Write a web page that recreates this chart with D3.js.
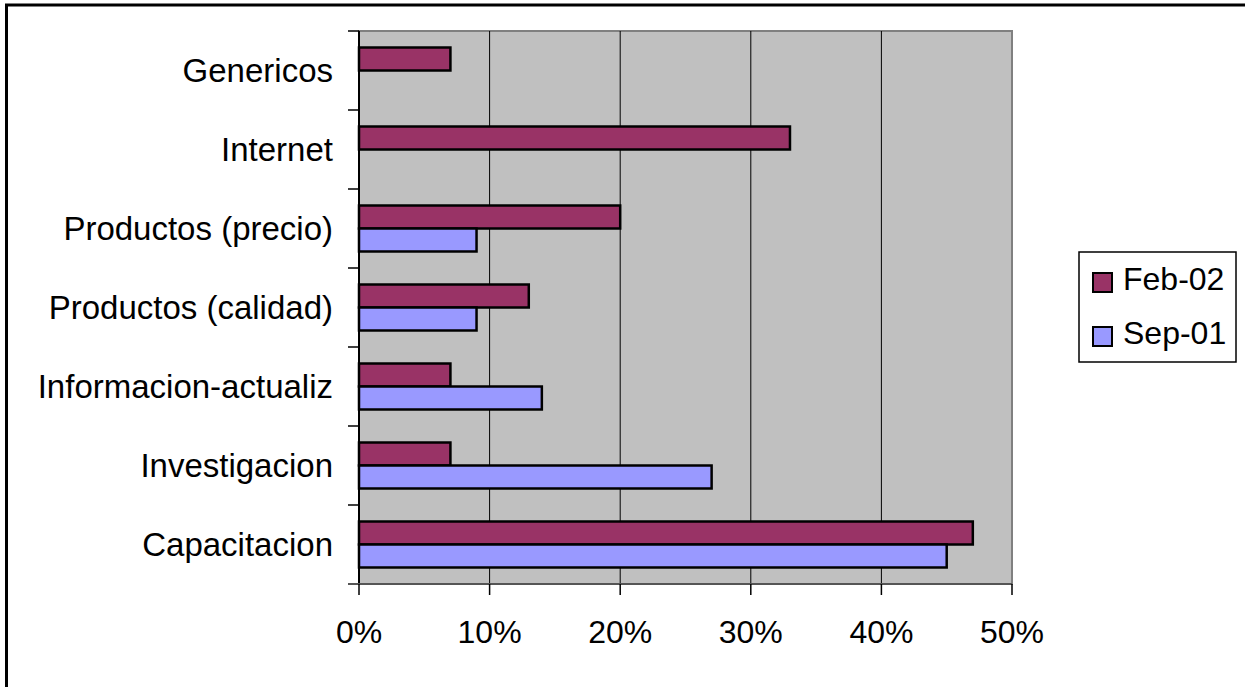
<!DOCTYPE html>
<html>
<head>
<meta charset="utf-8">
<script src="https://d3js.org/d3.v7.min.js"></script>
<style>
  body { margin: 0; background: #fff; font-family: Arial, "Liberation Sans", sans-serif; }
  svg { display: block; }
  .tick-label, .legend text { font-size: 32px; fill: #000; }
  .cat-label { font-size: 33px; fill: #000; }
</style>
</head>
<body>
<script>
  // chart values
  var categories = ["Genericos", "Internet", "Productos (precio)", "Productos (calidad)",
                    "Informacion-actualiz", "Investigacion", "Capacitacion"];
  var seriesNames = ["Feb-02", "Sep-01"];
  var feb02 = [7, 33, 20, 13, 7, 7, 47];
  var sep01 = [null, null, 9, 9, 14, 27, 45];
  var xTicks = [0, 10, 20, 30, 40, 50];
  var colors = {"Feb-02": "#993366", "Sep-01": "#9999FF"};

  var W = 1245, H = 687;
  var plot = {left: 359, top: 31, width: 653, height: 553};

  var svg = d3.select("body").append("svg")
      .attr("width", W)
      .attr("height", H);

  // outer chart frame (only top/left visible in the picture)
  svg.append("rect")
      .attr("x", 6.5).attr("y", 5)
      .attr("width", W + 20).attr("height", H + 20)
      .attr("fill", "#fff")
      .attr("stroke", "#000")
      .attr("stroke-width", 3);

  var x = d3.scaleLinear().domain([0, 50]).range([0, plot.width]);
  var y0 = d3.scaleBand().domain(categories).range([0, plot.height]).padding(0);
  var pad = y0.bandwidth() * 0.209;
  var y1 = d3.scaleBand().domain(seriesNames).range([pad, y0.bandwidth() - pad]);

  var g = svg.append("g")
      .attr("transform", `translate(${plot.left},${plot.top})`);

  g.append("rect")
      .attr("width", plot.width).attr("height", plot.height)
      .attr("fill", "#C0C0C0")
      .attr("stroke", "#808080")
      .attr("stroke-width", 2);

  // gridlines
  g.selectAll(".grid")
      .data(xTicks.slice(1, -1))
    .enter().append("line")
      .attr("class", "grid")
      .attr("x1", d => x(d)).attr("x2", d => x(d))
      .attr("y1", 0).attr("y2", plot.height)
      .attr("stroke", "#000").attr("stroke-width", 1);

  var rows = categories.map((c, i) => ({cat: c, "Feb-02": feb02[i], "Sep-01": sep01[i]}));

  var rowG = g.selectAll(".row")
      .data(rows)
    .enter().append("g")
      .attr("class", "row")
      .attr("transform", d => `translate(0,${y0(d.cat)})`);

  rowG.selectAll("rect")
      .data(d => seriesNames.filter(s => d[s] != null).map(s => ({s: s, v: d[s]})))
    .enter().append("rect")
      .attr("x", 0)
      .attr("y", d => y1(d.s))
      .attr("width", d => x(d.v))
      .attr("height", y1.bandwidth())
      .attr("fill", d => colors[d.s])
      .attr("stroke", "#000")
      .attr("stroke-width", 2.5);

  // y axis
  g.append("line")
      .attr("x1", 0).attr("x2", 0).attr("y1", 0).attr("y2", plot.height)
      .attr("stroke", "#000").attr("stroke-width", 2);
  var yEdges = d3.range(categories.length + 1).map(i => i * y0.step());
  g.selectAll(".ytick")
      .data(yEdges)
    .enter().append("line")
      .attr("x1", -11).attr("x2", 0)
      .attr("y1", d => d).attr("y2", d => d)
      .attr("stroke", "#000").attr("stroke-width", 1.5);
  g.selectAll(".cat-label")
      .data(categories)
    .enter().append("text")
      .attr("class", "cat-label")
      .attr("x", -26)
      .attr("y", d => y0(d) + y0.bandwidth() / 2)
      .attr("dy", "0.34em")
      .attr("text-anchor", "end")
      .text(d => d);

  // x axis
  g.append("line")
      .attr("x1", -11).attr("x2", plot.width)
      .attr("y1", plot.height).attr("y2", plot.height)
      .attr("stroke", "#555").attr("stroke-width", 2);
  g.selectAll(".xtick")
      .data(xTicks)
    .enter().append("line")
      .attr("x1", d => x(d)).attr("x2", d => x(d))
      .attr("y1", plot.height).attr("y2", plot.height + 11)
      .attr("stroke", "#000").attr("stroke-width", 1.5);
  g.selectAll(".tick-label")
      .data(xTicks)
    .enter().append("text")
      .attr("class", "tick-label")
      .attr("x", d => x(d))
      .attr("y", plot.height + 59)
      .attr("text-anchor", "middle")
      .text(d => d + "%");

  // legend
  var legend = svg.append("g").attr("class", "legend")
      .attr("transform", "translate(1079,252)");
  legend.append("rect")
      .attr("width", 157).attr("height", 110)
      .attr("fill", "#fff")
      .attr("stroke", "#000").attr("stroke-width", 1.5);
  var item = legend.selectAll(".item")
      .data(seriesNames)
    .enter().append("g")
      .attr("class", "item")
      .attr("transform", (d, i) => `translate(0,${i * 54})`);
  item.append("rect")
      .attr("x", 14).attr("y", 21)
      .attr("width", 19).attr("height", 19)
      .attr("fill", d => colors[d])
      .attr("stroke", "#000").attr("stroke-width", 2);
  item.append("text")
      .attr("x", 44).attr("y", 38)
      .text(d => d);
</script>
</body>
</html>
